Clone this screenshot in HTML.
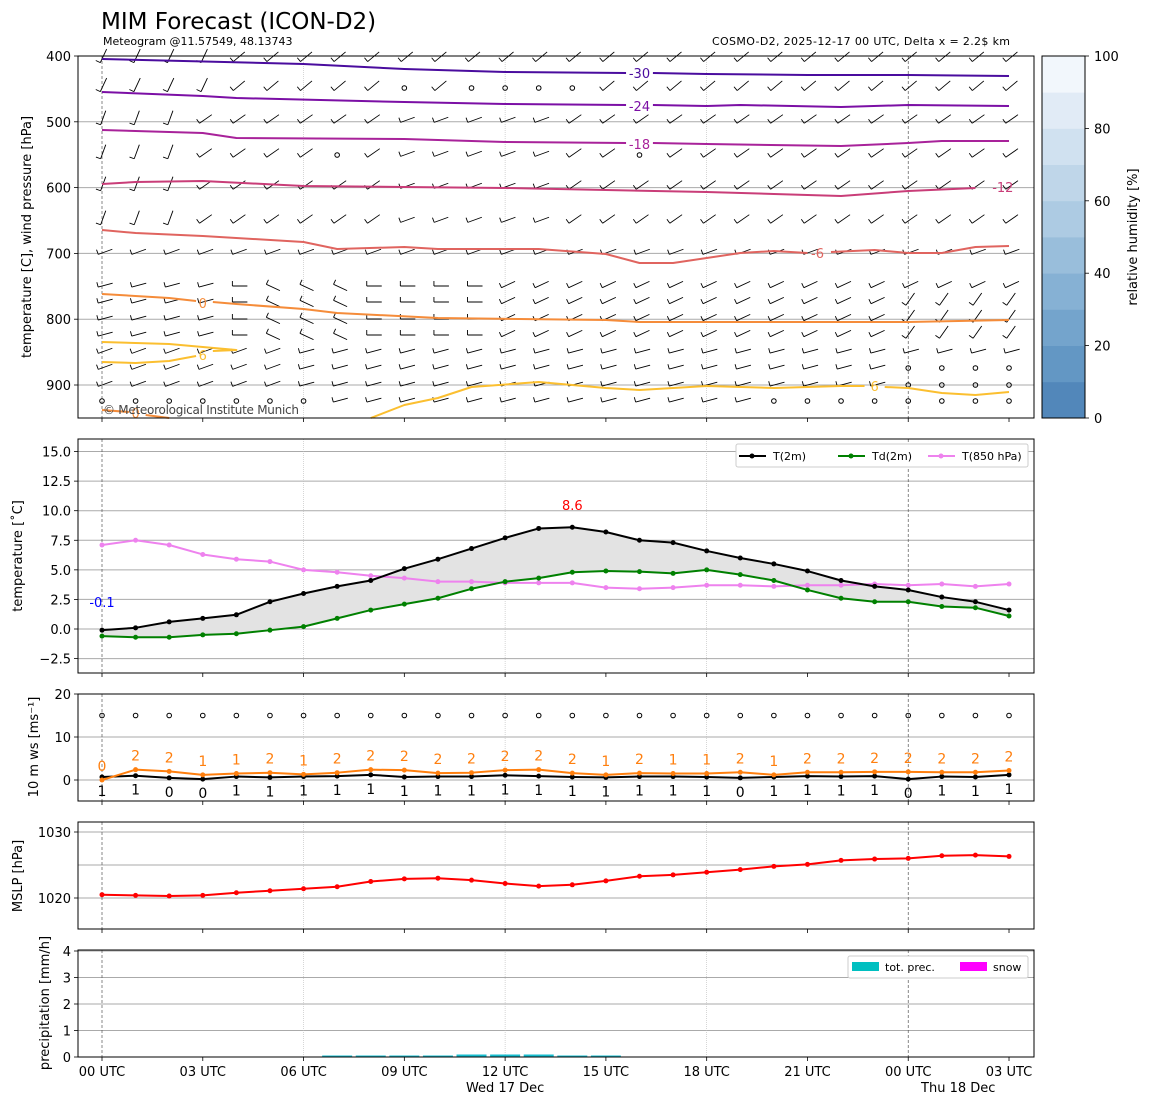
<!DOCTYPE html>
<html><head><meta charset="utf-8"><style>body{margin:0;background:#fff}svg{display:block;font-family:"DejaVu Sans","Liberation Sans",sans-serif}</style></head>
<body><svg id="s" width="1150" height="1105" xmlns="http://www.w3.org/2000/svg"></svg>
<script>
const S=document.getElementById('s');let h='';
const X=t=>102+t*33.593;
const L=78,R=1034;
function line(x1,y1,x2,y2,c,w,d){h+=`<line x1="${x1}" y1="${y1}" x2="${x2}" y2="${y2}" stroke="${c}" stroke-width="${w||1}" ${d?`stroke-dasharray="${d}"`:''}/>`}
function txt(x,y,s,sz,c,a,ex){h+=`<text x="${x}" y="${y}" font-size="${sz}" fill="${c||'#000'}" text-anchor="${a||'start'}" ${ex||''}>${s}</text>`}
function poly(pts,c,w){h+=`<polyline points="${pts.map(p=>p.join(',')).join(' ')}" fill="none" stroke="${c}" stroke-width="${w||2}" stroke-linejoin="round"/>`}
function vgrid(t,b){[0,24].forEach(k=>line(X(k),t,X(k),b,'#555',0.7,'3,2'));[6,12,18].forEach(k=>line(X(k),t,X(k),b,'#bbb',0.6,'1,1'))}
function frame(t,b){h+=`<rect x="${L}" y="${t}" width="${R-L}" height="${b-t}" fill="none" stroke="#000" stroke-width="1"/>`;for(let k=0;k<=27;k+=3)line(X(k),b,X(k),b+4,'#000',0.8)}
function ytick(y,s){line(L-4,y,L,y,'#000',0.8);txt(L-7,y+5,s,13,'#000','end')}
txt(101,29,'MIM Forecast (ICON-D2)',23);
txt(103,45,'Meteogram @11.57549, 48.13743',11);
txt(1010,45,'COSMO-D2, 2025-12-17 00 UTC, Delta x = 2.2$ km',11,'#000','end','textLength="298"');
const PY=p=>56+(p-400)*0.658;
[500,600,700,800,900].forEach(p=>line(L,PY(p),R,PY(p),'#aaa',1));
vgrid(56,418);
const rows=[59,88,121,155,187,221,253,286,302,319,335,352,368,385,401];
for(let r=0;r<rows.length;r++)for(let k=0;k<=27;k++){
 const x=X(k),y=rows[r];
 let calm=(r==14&&(k<7||k>19))||(r==13&&k>23)||(r==12&&k>23)||(r==1&&(k==9||k==11||k==12||k==13||k==14))||(r==3&&(k==7||k==16));
 if(calm){h+=`<circle cx="${x}" cy="${y}" r="2.3" fill="none" stroke="#000" stroke-width="1"/>`;continue}
 let ang;
 if(r<=1)ang=-40+(k<4?-25:0);else if(r<=5)ang=-35+(k<3?-35:0)+(k>8&&k<14?15:0);else if(r==6)ang=-20;else if(r<=10)ang=(k<12?-15+(k>3?15:0):-25)+(k>4&&k<8?25:0);else ang=-20+(k<6?0:5);
 if(r>=8&&r<=10&&k>=24)ang=-55;
 const a=ang*Math.PI/180,l=11;
 const ex=x+l*Math.cos(a),ey=y+l*Math.sin(a);
 const bx=x-4*Math.cos(a),by=y-4*Math.sin(a);
 h+=`<path d="M${bx} ${by}L${ex} ${ey}M${bx} ${by}l${5*Math.sin(a)} ${-5*Math.cos(a)}" stroke="#000" stroke-width="0.9" fill="none"/>`;
}
const C=(arr)=>arr.map(p=>[X(p[0]),p[1]]);
poly(C([[0,59],[6,64],[9,69],[12,72],[15.6,73]]),'#4a0c9e');poly(C([[16.4,73],[18,74],[21,75],[24,75],[27,76]]),'#4a0c9e');txt(X(16),78,'-30',13,'#4a0c9e','middle');
poly(C([[0,92],[3,96],[4,98],[9,102],[12,104],[15.6,105]]),'#7b0fa5');poly(C([[16.4,105],[18,106],[19,105],[22,107],[24,105],[27,106]]),'#7b0fa5');txt(X(16),111,'-24',13,'#7b0fa5','middle');
poly(C([[0,130],[3,133],[4,138],[9,139],[12,142],[15.6,143]]),'#a8229a');poly(C([[16.4,143],[18,144],[22,146],[24,143],[25,141],[27,141]]),'#a8229a');txt(X(16),149,'-18',13,'#a8229a','middle');
poly(C([[0,184],[1,182],[3,181],[6,186],[9,187],[12,188],[15,190],[18,192],[20,194],[22,196],[24,191],[26,188]]),'#c93d78');txt(X(26.5),192,'-12',13,'#c93d78','start');
poly(C([[0,230],[1,233],[3,236],[6,242],[7,249],[9,247],[10,249],[13,249],[15,254],[16,263],[17,263],[19,253],[20,251],[21,253]]),'#e0645f');poly(C([[21.7,252],[23,250],[24,253],[25,253],[26,247],[27,246]]),'#e0645f');txt(X(21.3),258,'-6',13,'#e0645f','middle');
poly(C([[0,294],[2,298],[2.8,301]]),'#f58c3a');poly(C([[3.3,302],[4,304],[6,309],[7,313],[10,318],[15,320],[16,322],[24,322],[27,320]]),'#f58c3a');txt(X(3),308,'0',13,'#f58c3a','middle');
poly(C([[0,342],[2,344],[4,350],[3.3,351]]),'#fbbf30');poly(C([[2.8,356],[2,361],[1,363],[0,362]]),'#fbbf30');txt(X(3),360,'6',13,'#fbbf30','middle');
poly(C([[8,418],[9,405],[10,398],[11,387],[13,382],[15,388],[16,390],[18,386],[20,388],[22,386],[22.7,386]]),'#fbbf30');poly(C([[23.3,387],[24,388],[25,393],[26,395],[27,392]]),'#fbbf30');txt(X(23),391,'6',13,'#fbbf30','middle');
poly(C([[0,410],[0.8,412]]),'#f58c3a');poly(C([[1.3,415],[2,418]]),'#f58c3a');txt(X(1),418,'0',13,'#f58c3a','middle');
txt(103,414,'© Meteorological Institute Munich',12,'#444','start','textLength="196"');
frame(56,418);
[400,500,600,700,800,900].forEach(p=>ytick(PY(p),p));
txt(31,237,'temperature [C], wind pressure [hPa]',13,'#000','middle','transform="rotate(-90 31 237)"');
const cb=['#5287ba','#6397c4','#74a4cc','#86b1d4','#99bedb','#adcbe3','#bfd6e9','#d0e1f0','#e1ebf6','#f2f7fc'];
for(let i=0;i<10;i++)h+=`<rect x="1042" y="${418-(i+1)*36.2}" width="43" height="36.6" fill="${cb[i]}"/>`;
h+=`<rect x="1042" y="56" width="43" height="362" fill="none" stroke="#000"/>`;
for(let i=0;i<=5;i++){const y=418-i*72.4;line(1085,y,1089,y,'#000',0.8);txt(1094,y+5,i*20,13)}
txt(1137,237,'relative humidity [%]',13,'#000','middle','transform="rotate(-90 1137 237)"');
const TY=v=>629-v*11.83;
for(let v=-2.5;v<=15;v+=2.5)line(L,TY(v),R,TY(v),'#aaa',1);
vgrid(439,673);
const T=[-0.1,0.1,0.6,0.9,1.2,2.3,3.0,3.6,4.1,5.1,5.9,6.8,7.7,8.5,8.6,8.2,7.5,7.3,6.6,6.0,5.5,4.9,4.1,3.6,3.3,2.7,2.3,1.6];
const D=[-0.6,-0.7,-0.7,-0.5,-0.4,-0.1,0.2,0.9,1.6,2.1,2.6,3.4,4.0,4.3,4.8,4.9,4.85,4.7,5.0,4.6,4.1,3.3,2.6,2.3,2.3,1.9,1.8,1.1];
const T8=[7.1,7.5,7.1,6.3,5.9,5.7,5.0,4.8,4.5,4.3,4.0,4.0,3.9,3.9,3.9,3.5,3.4,3.5,3.7,3.7,3.6,3.7,3.7,3.8,3.7,3.8,3.6,3.8];
h+=`<polygon points="${T.map((v,k)=>X(k)+','+TY(v)).join(' ')} ${D.map((v,k)=>X(k)+','+TY(v)).reverse().join(' ')}" fill="#e3e3e3" stroke="#ccc" stroke-width="0.5"/>`;
function series(a,Y,c){poly(a.map((v,k)=>[X(k),Y(v)]),c,2);a.forEach((v,k)=>h+=`<circle cx="${X(k)}" cy="${Y(v)}" r="2.5" fill="${c}"/>`)}
series(T8,TY,'#ee82ee');series(D,TY,'#008000');series(T,TY,'#000');
txt(X(14),510,'8.6',13,'red','middle');txt(102,607,'-0.1',13,'blue','middle');
h+=`<rect x="736" y="444" width="292" height="23" fill="#fff" stroke="#ccc" rx="2"/>`;
[[739,'#000','T(2m)'],[838,'#008000','Td(2m)'],[928,'#ee82ee','T(850 hPa)']].forEach(([x,c,s])=>{line(x,456,x+27,456,c,2);h+=`<circle cx="${x+13}" cy="456" r="2.5" fill="${c}"/>`;txt(x+34,460,s,11)});
frame(439,673);
[-2.5,0,2.5,5,7.5,10,12.5,15].forEach(v=>ytick(TY(v),v.toFixed(1).replace('-','−')));
txt(22,556,'temperature [˚C]',13,'#000','middle','transform="rotate(-90 22 556)"');
const WY=v=>780-v*4.3;
line(L,WY(0),R,WY(0),'#aaa',1);line(L,WY(10),R,WY(10),'#aaa',1);
vgrid(694,801);
for(let k=0;k<=27;k++)h+=`<circle cx="${X(k)}" cy="${WY(15)}" r="2.3" fill="none" stroke="#000"/>`;
const G=[0,2.4,2,1.2,1.5,1.7,1.3,1.7,2.4,2.3,1.6,1.7,2.3,2.4,1.6,1.2,1.6,1.5,1.5,1.8,1.2,1.8,1.8,1.9,1.9,1.8,1.8,2.2];
const GL=[0,2,2,1,1,2,1,2,2,2,2,2,2,2,2,1,2,1,1,2,1,2,2,2,2,2,2,2];
const W=[0.7,1,0.5,0.2,0.8,0.6,0.8,0.9,1.2,0.7,0.8,0.8,1.1,0.9,0.7,0.6,0.8,0.8,0.7,0.5,0.7,0.9,0.8,0.9,0.2,0.8,0.7,1.2];
const WL=[1,1,0,0,1,1,1,1,1,1,1,1,1,1,1,1,1,1,1,0,1,1,1,1,0,1,1,1];
series(W,WY,'#000');series(G,WY,'#ff7f0e');
G.forEach((v,k)=>txt(X(k),WY(v)-9,GL[k],14,'#ff7f0e','middle'));
W.forEach((v,k)=>txt(X(k),WY(v)+19,WL[k],14,'#000','middle'));
frame(694,801);
[0,10,20].forEach(v=>ytick(WY(v),v));
txt(38,747,'10 m ws [ms⁻¹]',13,'#000','middle','transform="rotate(-90 38 747)"');
const MY=v=>898-(v-1020)*6.6;
[1020,1025,1030].forEach(v=>line(L,MY(v),R,MY(v),'#aaa',1));
vgrid(822,929);
const M=[1020.5,1020.4,1020.3,1020.4,1020.8,1021.1,1021.4,1021.7,1022.5,1022.9,1023.0,1022.7,1022.2,1021.8,1022.0,1022.6,1023.3,1023.5,1023.9,1024.3,1024.8,1025.1,1025.7,1025.9,1026.0,1026.4,1026.5,1026.3];
series(M,MY,'red');
frame(822,929);
[1020,1030].forEach(v=>ytick(MY(v),v));
txt(22,876,'MSLP [hPa]',13,'#000','middle','transform="rotate(-90 22 876)"');
const RY=v=>1057-v*26.5;
[1,2,3,4].forEach(v=>line(L,RY(v),R,RY(v),'#aaa',1));
vgrid(950,1057);
for(let k=7;k<=15;k++)h+=`<rect x="${X(k)-15}" y="${k>=11&&k<=13?1054.5:1055.5}" width="30" height="${k>=11&&k<=13?2.5:1.5}" fill="#17becf"/>`;
h+=`<rect x="848" y="956" width="180" height="22" fill="#fff" stroke="#ccc" rx="2"/>`;
h+=`<rect x="852" y="962" width="27" height="9" fill="#00bfc0"/>`;txt(885,971,'tot. prec.',11);
h+=`<rect x="960" y="962" width="27" height="9" fill="#ff00ff"/>`;txt(993,971,'snow',11);
frame(950,1057);
[0,1,2,3,4].forEach(v=>ytick(RY(v),v));
txt(49,1003,'precipitation [mm/h]',13,'#000','middle','transform="rotate(-90 49 1003)"');
['00 UTC','03 UTC','06 UTC','09 UTC','12 UTC','15 UTC','18 UTC','21 UTC','00 UTC','03 UTC'].forEach((s,i)=>txt(X(i*3),1076,s,13,'#000','middle'));
txt(X(12),1092,'Wed 17 Dec',13,'#000','middle');txt(X(24)+50,1092,'Thu 18 Dec',13,'#000','middle');
S.innerHTML=h;
</script></body></html>
